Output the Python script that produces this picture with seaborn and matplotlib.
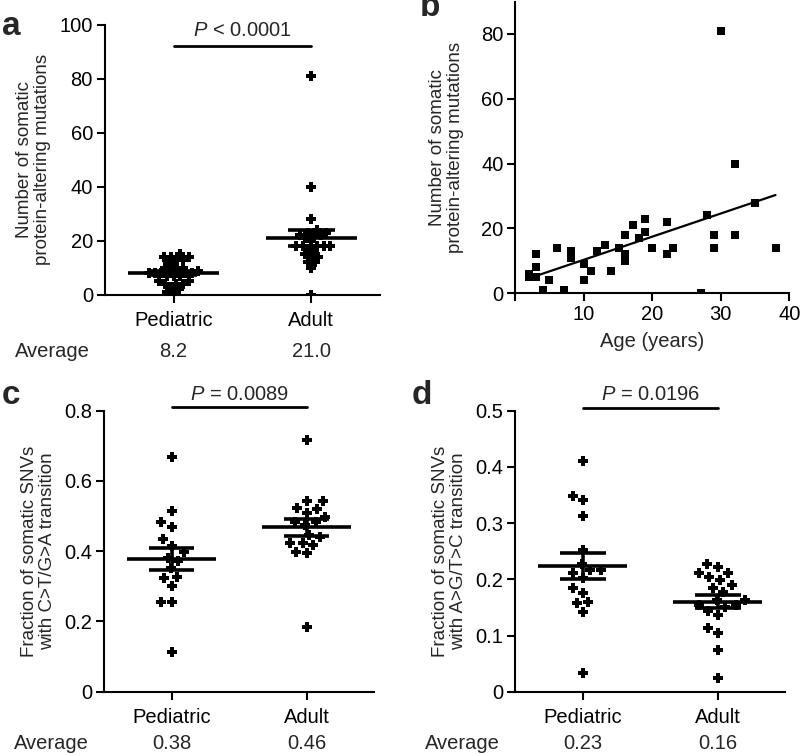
import numpy as np
import pandas as pd
import matplotlib
matplotlib.use('Agg')
import matplotlib.pyplot as plt
import seaborn as sns

# Data
groups = ['Pediatric', 'Adult']

# a: protein-altering mutations per tumour
mut_ped = [15, 14, 14, 14, 13, 13, 12, 11, 10, 10, 9, 9, 9, 8, 8, 8, 8, 8,
           7, 7, 7, 5, 5, 4, 4, 4, 3, 2, 1, 1]
mut_adult = [81, 40, 28, 24, 23, 23, 22, 22, 22, 21, 20, 18, 18, 18, 18, 18,
             17, 16, 15, 14, 14, 12, 12, 10, 0]
avg_a = ['8.2', '21.0']
p_a = '$P$ < 0.0001'

# b: mutations vs age
age = [2.0, 2.0, 3.0, 3.0, 3.0, 4.1, 5.0, 6.1, 7.1, 8.1, 8.1, 10.0, 10.0, 11.0,
       12.0, 13.1, 14.0, 15.1, 16.1, 16.1, 16.1, 17.2, 18.0, 19.0, 19.0, 20.0,
       22.1, 22.1, 23.1, 27.1, 28.0, 29.0, 29.0, 30.0, 32.1, 32.1, 35.0, 38.0]
mut_age = [6, 5, 12, 8, 5, 1, 4, 14, 1, 13, 11, 9, 4, 7,
           13, 15, 7, 14, 18, 12, 10, 21, 17, 23, 19, 14,
           22, 12, 14, 0, 24, 18, 14, 81, 40, 18, 28, 14]

# c: fraction C>T/G>A
ct_ped = [0.667, 0.515, 0.482, 0.470, 0.434, 0.415, 0.398, 0.382, 0.373, 0.351,
          0.327, 0.323, 0.302, 0.254, 0.254, 0.112]
ct_adult = [0.718, 0.544, 0.544, 0.522, 0.509, 0.498, 0.519, 0.484, 0.484,
            0.474, 0.446, 0.441, 0.424, 0.398, 0.394, 0.417, 0.422, 0.185]
avg_c = ['0.38', '0.46']
p_c = '$P$ = 0.0089'

# d: fraction A>G/T>C
ag_ped = [0.411, 0.341, 0.348, 0.313, 0.252, 0.216, 0.211, 0.216, 0.227, 0.203,
          0.176, 0.184, 0.157, 0.160, 0.141, 0.033]
ag_adult = [0.227, 0.205, 0.211, 0.211, 0.222, 0.199, 0.190, 0.178, 0.184,
            0.154, 0.150, 0.144, 0.136, 0.154, 0.163, 0.113, 0.104, 0.075,
            0.024, 0.163]
avg_d = ['0.23', '0.16']
p_d = '$P$ = 0.0196'

sns.set_style('ticks')
plt.rcParams['font.family'] = ['Liberation Sans', 'DejaVu Sans']
plt.rcParams['mathtext.fontset'] = 'custom'
plt.rcParams['mathtext.it'] = 'Liberation Sans:italic'
plt.rcParams['mathtext.rm'] = 'Liberation Sans'
plt.rcParams['axes.linewidth'] = 1.5
plt.rcParams['xtick.major.width'] = 1.5
plt.rcParams['ytick.major.width'] = 1.5
plt.rcParams['xtick.major.size'] = 5.5
plt.rcParams['ytick.major.size'] = 5.5
plt.rcParams['xtick.color'] = 'black'
plt.rcParams['ytick.color'] = 'black'
plt.rcParams['axes.edgecolor'] = 'black'

fig = plt.figure(figsize=(8, 7.54), dpi=100)
ax_a = fig.add_axes([0.131, 0.609, 0.344, 0.358])
ax_b = fig.add_axes([0.644, 0.611, 0.3425, 0.387])
ax_c = fig.add_axes([0.130, 0.0826, 0.3375, 0.3727])
ax_d = fig.add_axes([0.644, 0.0826, 0.3375, 0.3727])


def dot_panel(ax, ped, adult, ylim, yticks, yticklabels, ylabel, avgs, ptext,
              pline_y, ptext_y, swarm_size, avg_off):
    df = pd.DataFrame({'group': ['Pediatric'] * len(ped) + ['Adult'] * len(adult),
                       'value': ped + adult})
    ax.set_ylim(*ylim)
    # swarm layout from a smaller marker, then redraw the crosses bigger so they overlap like the original
    sns.swarmplot(data=df, x='group', y='value', order=groups, marker='P',
                  color='black', size=swarm_size, linewidth=0, ax=ax)
    ax.set_ylim(*ylim)
    ax.set_xlim(-0.5, 1.5)
    fig.canvas.draw()
    pts = np.vstack([c.get_offsets() for c in ax.collections])
    for c in list(ax.collections):
        c.remove()
    ax.scatter(pts[:, 0], pts[:, 1], marker='P', s=62, color='black', linewidths=0)
    for i, vals in enumerate([ped, adult]):
        v = np.array(vals)
        m = v.mean()
        se = v.std(ddof=1) / np.sqrt(len(v))
        ax.hlines(m, i - 0.33, i + 0.33, color='black', lw=2.6, zorder=5)
        ax.hlines([m - se, m + se], i - 0.17, i + 0.17, color='black', lw=2.6, zorder=5)
        ax.vlines(i, m - se, m + se, color='black', lw=2.6, zorder=5)
        ax.annotate(avgs[i], xy=(i, 0), xycoords=('data', 'axes fraction'),
                    xytext=(0, avg_off), textcoords='offset points', ha='center',
                    va='center', fontsize=14.5)
    ax.annotate('Average', xy=(0, 0), xycoords='axes fraction', xytext=(-38, avg_off),
                textcoords='offset points', ha='center', va='center', fontsize=14.5)
    ax.plot([0, 1], [pline_y, pline_y], color='black', lw=2, clip_on=False)
    ax.text(0.5, ptext_y, ptext, ha='center', va='center', fontsize=14.5, clip_on=False)
    ax.set_xlim(-0.5, 1.5)
    ax.set_ylim(*ylim)
    ax.set_yticks(yticks)
    ax.set_yticklabels(yticklabels)
    ax.set_xlabel('')
    ax.set_ylabel(ylabel, fontsize=13.5, labelpad=6, linespacing=1.1)
    ax.tick_params(axis='y', labelsize=14.5, pad=3)
    ax.tick_params(axis='x', labelsize=14.5, pad=6)
    sns.despine(ax=ax)


dot_panel(ax_a, mut_ped, mut_adult, (0, 100), [0, 20, 40, 60, 80, 100],
          ['0', '20', '40', '60', '80', '100'],
          'Number of somatic\nprotein-altering mutations', avg_a, p_a, 92, 98, 4.4, -41)
dot_panel(ax_c, ct_ped, ct_adult, (0, 0.8), [0, 0.2, 0.4, 0.6, 0.8],
          ['0', '0.2', '0.4', '0.6', '0.8'],
          'Fraction of somatic SNVs\nwith C>T/G>A transition', avg_c, p_c, 0.81, 0.845, 7.5, -37)
dot_panel(ax_d, ag_ped, ag_adult, (0, 0.5), [0, 0.1, 0.2, 0.3, 0.4, 0.5],
          ['0', '0.1', '0.2', '0.3', '0.4', '0.5'],
          'Fraction of somatic SNVs\nwith A>G/T>C transition', avg_d, p_d, 0.505, 0.528, 7.5, -37)

# b: regression of mutations on age
sns.regplot(x=age, y=mut_age, ci=None, marker='s', color='black', truncate=True,
            scatter_kws={'s': 30, 'linewidths': 0, 'alpha': 1}, line_kws={'lw': 1.6}, ax=ax_b)
ax_b.set_xlim(0, 40)
ax_b.set_ylim(0, 90)
ax_b.set_xticks([0, 10, 20, 30, 40])
ax_b.set_xticklabels(['', '10', '20', '30', '40'])
ax_b.set_yticks([0, 20, 40, 60, 80])
ax_b.set_xlabel('Age (years)', fontsize=14.5, labelpad=6)
ax_b.set_ylabel('Number of somatic\nprotein-altering mutations', fontsize=13.5,
                labelpad=12, linespacing=1.1)
ax_b.tick_params(labelsize=14.5, pad=3)
sns.despine(ax=ax_b)

# panel letters
for x, y, s in [(0.002, 0.965, 'a'), (0.525, 0.99, 'b'), (0.002, 0.475, 'c'), (0.515, 0.475, 'd')]:
    fig.text(x, y, s, fontsize=24, fontweight='bold', va='center', ha='left')

fig.savefig('out.png', dpi=100)
